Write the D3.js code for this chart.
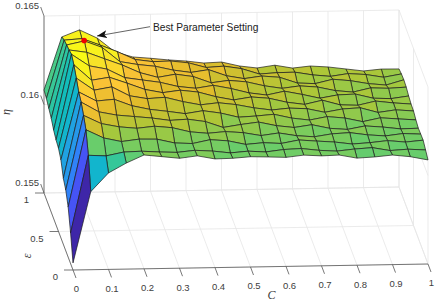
<!DOCTYPE html>
<html>
<head>
<meta charset="utf-8">
<script src="https://d3js.org/d3.v7.min.js"></script>
<style>
  html, body { margin: 0; padding: 0; background: #fff; }
  text { font-family: "Liberation Sans", Arial, sans-serif; font-size: 9.5px; fill: #404040; }
  .mathlabel { font-family: "Liberation Serif", serif; font-style: italic; font-size: 12px; }
</style>
</head>
<body>
<div id="chart"></div>
<script>
var cValues = d3.range(21).map(function(i) { return i / 20; });
var epsValues = d3.range(13).map(function(i) { return i / 12; });
var cTicks = [0, 0.1, 0.2, 0.3, 0.4, 0.5, 0.6, 0.7, 0.8, 0.9, 1];
var epsTicks = [0, 0.5, 1];
var etaTicks = [0.155, 0.16, 0.165];
var bestPoint = [0.1, 0.84, 0.16428];

// one row per epsilon, first row is epsilon = 0
var eta = [
  [.15540,.15941,.16045,.16099,.16143,.16132,.16121,.16133,.16114,.16116,.16123,.16120,.16116,.16127,.16121,.16124,.16105,.16110,.16119,.16108,.16088],
  [.15673,.16110,.16105,.16125,.16128,.16122,.16118,.16128,.16122,.16110,.16118,.16112,.16124,.16128,.16116,.16110,.16120,.16126,.16108,.16114,.16108],
  [.15783,.16218,.16170,.16148,.16160,.16158,.16135,.16130,.16150,.16142,.16120,.16128,.16122,.16140,.16132,.16125,.16112,.16118,.16128,.16118,.16127],
  [.15843,.16263,.16215,.16195,.16185,.16195,.16185,.16160,.16150,.16158,.16150,.16132,.16145,.16128,.16120,.16135,.16140,.16126,.16118,.16130,.16125],
  [.15873,.16302,.16245,.16225,.16215,.16205,.16190,.16195,.16180,.16145,.16160,.16172,.16150,.16138,.16152,.16130,.16122,.16140,.16132,.16120,.16122],
  [.15941,.16323,.16270,.16278,.16240,.16218,.16205,.16190,.16205,.16190,.16165,.16170,.16178,.16155,.16142,.16160,.16150,.16128,.16148,.16140,.16133],
  [.15970,.16365,.16295,.16312,.16260,.16242,.16248,.16222,.16202,.16212,.16200,.16180,.16166,.16175,.16170,.16148,.16165,.16170,.16142,.16155,.16147],
  [.15980,.16404,.16315,.16330,.16295,.16258,.16238,.16250,.16238,.16210,.16190,.16205,.16196,.16172,.16158,.16180,.16152,.16148,.16170,.16158,.16150],
  [.16000,.16427,.16360,.16340,.16290,.16275,.16260,.16235,.16223,.16238,.16218,.16192,.16178,.16198,.16178,.16155,.16172,.16175,.16150,.16146,.16159],
  [.16030,.16415,.16400,.16362,.16325,.16280,.16252,.16268,.16253,.16216,.16228,.16218,.16194,.16178,.16190,.16182,.16160,.16150,.16172,.16168,.16173],
  [.16050,.16407,.16428,.16390,.16308,.16290,.16278,.16255,.16240,.16254,.16218,.16200,.16213,.16204,.16170,.16165,.16188,.16178,.16160,.16150,.16178],
  [.16070,.16398,.16405,.16368,.16328,.16282,.16268,.16270,.16258,.16230,.16236,.16220,.16188,.16194,.16195,.16178,.16168,.16182,.16175,.16158,.16175],
  [.16082,.16380,.16418,.16370,.16290,.16260,.16251,.16240,.16232,.16219,.16223,.16199,.16186,.16200,.16182,.16192,.16185,.16172,.16159,.16168,.16167]
];

// parula colormap
var parulaStops = ["#3e26a8", "#4539da", "#4752f4", "#406cfe", "#2d87f7", "#249de6", "#12b1d6", "#12beb9",
                   "#37c897", "#6bcd69", "#abc739", "#e1bc2b", "#fec338", "#f6e626", "#f9fb15"];

var width = 436, height = 303;

// the view is a parallel projection, each data axis adds its own screen offset
var xFromC = d3.scaleLinear().domain([0, 1]).range([73, 428]);
var xFromEps = d3.scaleLinear().domain([0, 1]).range([0, -29]);
var yFromC = d3.scaleLinear().domain([0, 1]).range([270, 264]);
var yFromEps = d3.scaleLinear().domain([0, 1]).range([0, -77]);
var yFromEta = d3.scaleLinear().domain([0.155, 0.165]).range([0, -177]);

var zMin = 0.1554, zMax = 0.1643;
var color = d3.scaleLinear()
    .domain(parulaStops.map(function(d, i) { return zMin + (zMax - zMin) * i / (parulaStops.length - 1); }))
    .range(parulaStops)
    .clamp(true);

function project(c, e, z) {
    return [xFromC(c) + xFromEps(e), yFromC(c) + yFromEps(e) + yFromEta(z)];
}

var svg = d3.select("#chart").append("svg")
    .attr("width", width)
    .attr("height", height)
    .style("display", "block");

function addLine(group, a, b, stroke, w) {
    group.append("line")
        .attr("x1", a[0]).attr("y1", a[1])
        .attr("x2", b[0]).attr("y2", b[1])
        .attr("stroke", stroke)
        .attr("stroke-width", w);
}

// Walls and floor
var gridColor = "#e6e6e6";
var axisColor = "#555555";
var grid = svg.append("g").attr("id", "grid");

cTicks.forEach(function(c) {
    addLine(grid, project(c, 0, 0.155), project(c, 1, 0.155), gridColor, 0.8);
    addLine(grid, project(c, 1, 0.155), project(c, 1, 0.165), gridColor, 0.8);
});
epsTicks.forEach(function(e) {
    addLine(grid, project(0, e, 0.155), project(1, e, 0.155), gridColor, 0.8);
    addLine(grid, project(1, e, 0.155), project(1, e, 0.165), gridColor, 0.8);
});
etaTicks.forEach(function(z) {
    addLine(grid, project(0, 1, z), project(1, 1, z), gridColor, 0.8);
    addLine(grid, project(1, 1, z), project(1, 0, z), gridColor, 0.8);
});

// Axes
var axes = svg.append("g").attr("id", "axes");
addLine(axes, project(0, 1, 0.155), project(0, 1, 0.165), axisColor, 0.8);
addLine(axes, project(0, 0, 0.155), project(1, 0, 0.155), axisColor, 0.8);
addLine(axes, project(0, 0, 0.155), project(0, 1, 0.155), axisColor, 0.8);

cTicks.forEach(function(c) {
    var p = project(c, 0, 0.155);
    addLine(axes, p, [p[0] + 3, p[1] + 8], axisColor, 0.8);
    axes.append("text")
        .attr("x", p[0] + 3.5)
        .attr("y", p[1] + 19)
        .attr("dy", "0.35em")
        .attr("text-anchor", "middle")
        .text(c);
});
epsTicks.forEach(function(e) {
    var p = project(0, e, 0.155);
    addLine(axes, p, [p[0] - 9, p[1]], axisColor, 0.8);
    axes.append("text")
        .attr("x", p[0] - 15)
        .attr("y", p[1] + 7)
        .attr("dy", "0.35em")
        .attr("text-anchor", "end")
        .text(e);
});
etaTicks.forEach(function(z) {
    var p = project(0, 1, z);
    addLine(axes, p, [p[0] - 3.3, p[1] - 9], axisColor, 0.8);
    axes.append("text")
        .attr("x", p[0] - 5)
        .attr("y", p[1] - 10)
        .attr("dy", "0.35em")
        .attr("text-anchor", "end")
        .text(z);
});

axes.append("text").attr("class", "mathlabel")
    .attr("transform", "translate(10,112) rotate(-90)")
    .attr("text-anchor", "middle")
    .text("η");
axes.append("text").attr("class", "mathlabel")
    .attr("transform", "translate(31,256) rotate(-90)")
    .attr("text-anchor", "middle")
    .text("ε");
axes.append("text").attr("class", "mathlabel")
    .attr("x", 271.5).attr("y", 299)
    .attr("text-anchor", "middle")
    .text("C");

// Surface, painted from the far corner to the near one.
// Each face takes its colour from its lowest index corner, as surf does.
var faces = [];
d3.range(epsValues.length - 2, -1, -1).forEach(function(i) {
    d3.range(cValues.length - 2, -1, -1).forEach(function(j) {
        faces.push({i: i, j: j});
    });
});

var path = d3.line();
svg.append("g").attr("id", "surface")
    .selectAll("path")
    .data(faces)
    .enter()
    .append("path")
    .attr("d", function(d) {
        var i = d.i, j = d.j;
        return path([
            project(cValues[j], epsValues[i], eta[i][j]),
            project(cValues[j + 1], epsValues[i], eta[i][j + 1]),
            project(cValues[j + 1], epsValues[i + 1], eta[i + 1][j + 1]),
            project(cValues[j], epsValues[i + 1], eta[i + 1][j])
        ]) + "Z";
    })
    .attr("fill", function(d) { return color(eta[d.i][d.j]); })
    .attr("stroke", "#1c1c1c")
    .attr("stroke-width", 0.7)
    .attr("stroke-linejoin", "round");

// Best point and its note
var best = project(bestPoint[0], bestPoint[1], bestPoint[2]);
svg.append("circle")
    .attr("cx", best[0])
    .attr("cy", best[1])
    .attr("r", 2.8)
    .attr("fill", "#f00000");

svg.append("defs").append("marker")
    .attr("id", "head")
    .attr("viewBox", "0 0 10 8")
    .attr("refX", 10)
    .attr("refY", 4)
    .attr("markerUnits", "userSpaceOnUse")
    .attr("markerWidth", 10)
    .attr("markerHeight", 8)
    .attr("orient", "auto")
    .append("path")
    .attr("d", "M0,0L10,4L0,8L2.5,4Z")
    .attr("fill", "#111");

svg.append("line")
    .attr("x1", 150).attr("y1", 26.7)
    .attr("x2", 97).attr("y2", 36)
    .attr("stroke", "#222")
    .attr("stroke-width", 0.7)
    .attr("marker-end", "url(#head)");

svg.append("text")
    .attr("x", 153)
    .attr("y", 27)
    .attr("dy", "0.35em")
    .style("font-size", "10.2px")
    .style("fill", "#222")
    .text("Best Parameter Setting");
</script>
</body>
</html>
